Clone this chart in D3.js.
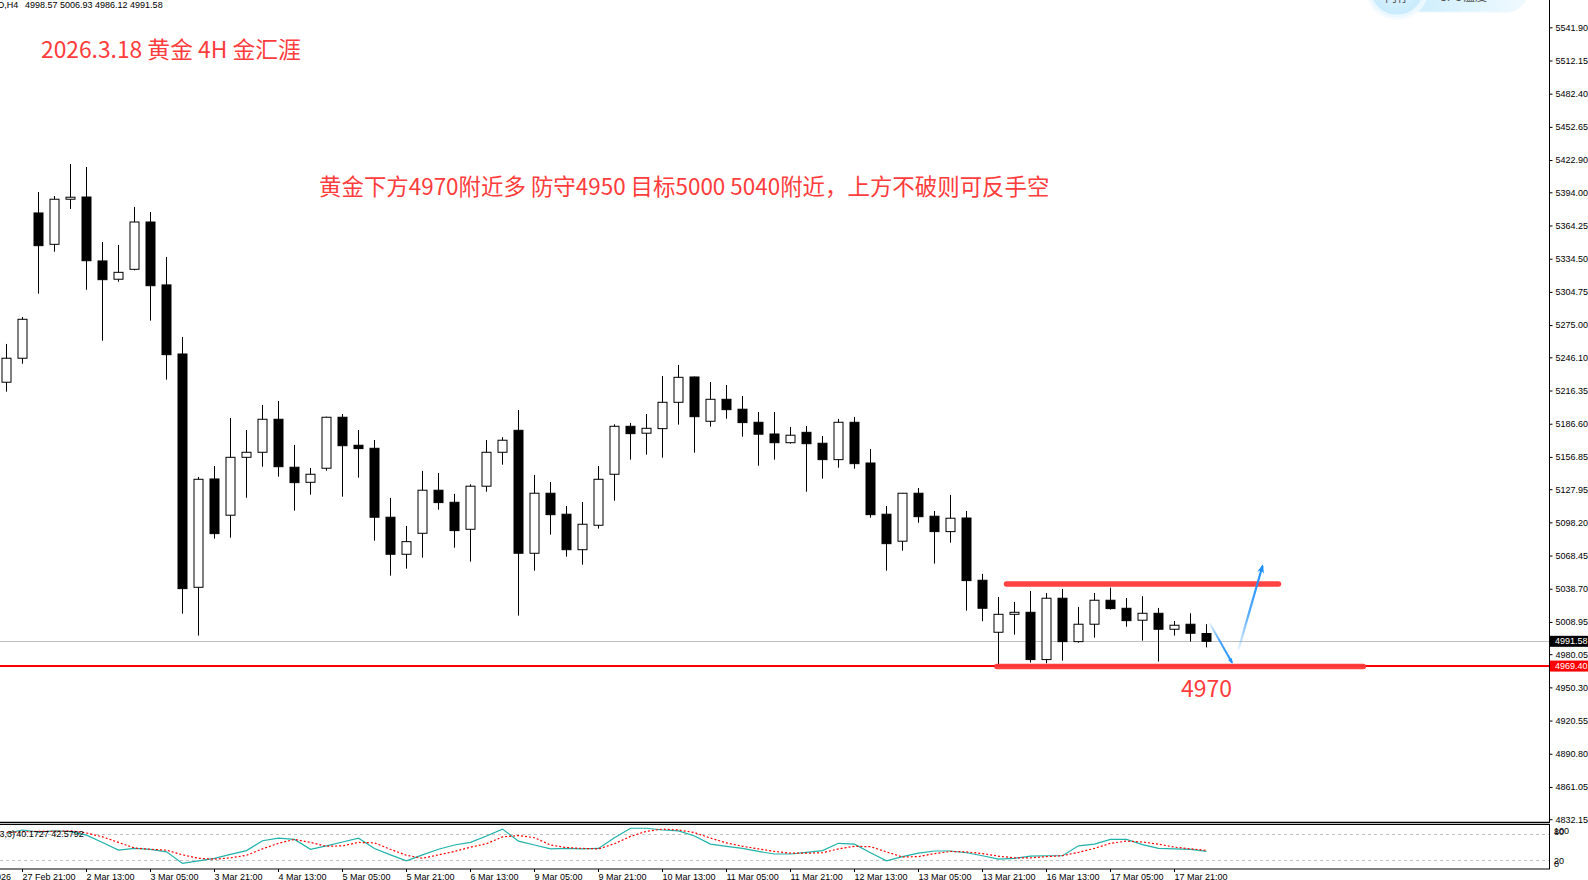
<!DOCTYPE html>
<html><head><meta charset="utf-8">
<script src="https://cdn.jsdelivr.net/npm/d3@7"></script>
<style>html,body{margin:0;padding:0;background:#fff;overflow:hidden}</style>
</head><body>
<svg id="c" width="1588" height="880"></svg>
<script>
// ---- data (XAUUSD H4, 27 Feb 17:00 .. 18 Mar 05:00) ----
const openP  = [5223.8,5245.3,5375.5,5347.4,5387.8,5389.8,5332.5,5316.1,5325.0,5367.4,
                5311.0,5249.1,5040.0,5137.1,5104.6,5156.5,5161.0,5190.6,5147.6,5134.1,
                5146.7,5192.4,5167.3,5164.6,5102.8,5069.6,5088.4,5127.0,5116.2,5092.0,
                5130.6,5161.0,5180.7,5070.5,5124.3,5105.5,5073.7,5095.6,5141.3,5184.3,
                5178.1,5182.2,5205.8,5228.5,5188.8,5208.5,5199.6,5187.9,5177.4,5169.6,
                5178.9,5169.1,5154.4,5187.9,5151.4,5105.5,5081.3,5124.3,5103.7,5089.9,
                5102.1,5046.3,4999.7,5015.8,5017.6,4975.2,5030.2,4991.3,5006.9,5028.4,
                5021.2,5010.5,5016.7,5002.4,5006.9,4998.57];
const highP  = [5258.1,5282.3,5394.3,5390.7,5419.4,5416.7,5349.5,5346.8,5380.9,5376.4,
                5336.1,5264.4,5138.9,5148.7,5191.8,5181.0,5203.4,5207.0,5167.6,5147.0,
                5192.9,5195.3,5181.0,5172.0,5120.1,5095.0,5144.3,5142.5,5123.7,5132.3,
                5172.0,5174.5,5198.9,5140.7,5134.4,5112.9,5116.5,5148.7,5186.1,5187.3,
                5195.3,5229.4,5239.3,5228.9,5224.0,5221.3,5211.5,5197.1,5197.1,5183.7,
                5184.6,5175.6,5190.9,5192.7,5164.0,5112.9,5124.6,5129.0,5108.4,5122.8,
                5108.4,5052.0,5031.3,5026.9,5036.7,5034.9,5038.5,5022.4,5034.9,5039.7,
                5030.4,5032.0,5021.5,5009.8,5016.7,5006.93];
const lowP   = [5215.3,5240.4,5303.2,5340.8,5379.1,5306.7,5261.0,5313.9,5324.0,5279.0,
                5226.1,5016.4,4996.7,5083.6,5084.5,5120.3,5148.1,5139.2,5108.7,5123.0,
                5144.5,5121.2,5138.3,5081.8,5050.4,5056.7,5066.6,5109.6,5075.5,5063.0,
                5125.7,5149.9,5014.6,5054.9,5087.2,5067.5,5060.3,5092.6,5117.6,5154.4,
                5158.9,5156.2,5185.8,5160.7,5184.0,5191.1,5175.0,5149.0,5154.4,5168.7,
                5125.7,5137.4,5147.2,5146.3,5102.4,5054.9,5072.8,5097.9,5061.2,5080.0,
                5019.1,5009.6,4969.4,4997.6,4972.5,4971.9,4974.3,4990.4,4994.9,5020.0,
                5004.7,4992.2,4973.4,4996.7,4991.3,4986.12];
const closeP = [5245.3,5280.2,5346.2,5387.8,5389.6,5332.7,5315.7,5322.3,5367.4,5310.3,
                5248.5,5038.8,5136.8,5088.1,5156.5,5161.0,5190.6,5148.1,5133.8,5141.3,
                5192.4,5166.9,5164.3,5102.8,5069.6,5080.9,5127.0,5115.9,5090.8,5130.6,
                5161.0,5171.8,5070.5,5124.3,5105.1,5073.7,5096.5,5136.8,5184.3,5177.7,
                5182.5,5205.8,5228.2,5192.9,5208.5,5199.2,5187.6,5177.2,5169.6,5176.3,
                5168.7,5154.4,5187.9,5150.8,5105.1,5079.1,5124.3,5103.3,5089.9,5101.9,
                5046.0,5021.2,5015.8,5017.6,4975.2,5030.2,4991.3,5006.9,5028.4,5020.9,
                5010.1,5016.7,5002.4,5006.0,4998.8,4991.58];
// stochastic main / signal
const stochMain = [82,90,85,88,86,78,61,43,47,45,39,12,18,24,33,42,65,71,68,45,
                   53,62,71,47,32,18,32,45,55,61,76,92,64,55,46,47,46,47,72,94,
                   94,90,88,76,57,52,47,40,34,34,38,42,59,57,37,18,28,36,41,41,
                   37,30,22,24,29,30,30,53,57,68,68,56,47,46,45,40.17];
const stochSignal = [84,86,87,87,88,83,74,61,48,45,43,32,24,22,25,31,46,59,68,61,
                     52,53,61,60,45,31,24,32,40,50,58,74,77,72,55,49,47,46,58,75,
                     87,92,90,84,71,60,52,46,40,36,36,37,46,52,51,39,27,28,35,40,
                     39,35,29,25,25,28,30,38,47,59,64,62,57,50,46,42.58];
const stochLevels = [80, 20];
const stochLabels = ["100","80","20","0"];
const priceTicks = ["5541.90","5512.15","5482.40","5452.65","5422.90","5394.00","5364.25",
  "5334.50","5304.75","5275.00","5246.10","5216.35","5186.60","5156.85","5127.95","5098.20",
  "5068.45","5038.70","5008.95","4980.05","4950.30","4920.55","4890.80","4861.05","4832.15"];
const xTickIdx = [1,5,9,13,17,21,25,29,33,37,41,45,49,53,57,61,65,69,73];
const xTickLabels = ["27 Feb 21:00","2 Mar 13:00","3 Mar 05:00","3 Mar 21:00","4 Mar 13:00",
  "5 Mar 05:00","5 Mar 21:00","6 Mar 13:00","9 Mar 05:00","9 Mar 21:00","10 Mar 13:00",
  "11 Mar 05:00","11 Mar 21:00","12 Mar 13:00","13 Mar 05:00","13 Mar 21:00","16 Mar 13:00",
  "17 Mar 05:00","17 Mar 21:00"];
const firstDateLabel = "27 Feb 2026";
const bidPrice = 4991.58;
const levelPrice = 4969.40;
const rangeTop = 5043.0, rangeBottom = 4969.0;
const rangeTopSpan = [62.5, 79.5], rangeBottomSpan = [61.9, 84.8];
const arrowDown = [[75.2, 5007.8],[76.6, 4972.4]];
const arrowUp = [[77.0, 4984.4],[78.5, 5059.1]];
const titleText = "2026.3.18 黄金 4H 金汇涯";
const noteText = "黄金下方4970附近多 防守4950 目标5000 5040附近，上方不破则可反手空";
const levelText = "4970";
const symbolText = "XAUUSD,H4";
const ohlcText = "4998.57 5006.93 4986.12 4991.58";
const stochName = "Stoch(5,3,3)";
const stochValText = "40.1727 42.5792";

// ---- drawing ----
const svg = d3.select('#c');
const AX = 1549, MAIN_BOTTOM = 822.5;
const x = d3.scaleLinear().domain([0, 75]).range([6.5, 1206.5]);
const y = d3.scaleLinear().domain([4832.15, 5541.90]).range([819.2, 27.3]);
const ys = d3.scaleLinear().domain([0, 100]).range([868.6, 825.7]);
const LF = "'Liberation Sans', Arial, sans-serif";
const CJK = "'Noto Sans CJK SC', 'Noto Sans', sans-serif";

const defs = svg.append('defs');
defs.append('clipPath').attr('id','mainClip').append('rect')
  .attr('x',0).attr('y',0).attr('width',AX).attr('height',MAIN_BOTTOM);
defs.append('clipPath').attr('id','indClip').append('rect')
  .attr('x',0).attr('y',825).attr('width',AX).attr('height',44);

// widget gradient
const pg = defs.append('linearGradient').attr('id','pillG').attr('x1','0').attr('x2','1').attr('y1','0').attr('y2','0');
pg.append('stop').attr('offset','0').attr('stop-color','#c9ecfc');
pg.append('stop').attr('offset','1').attr('stop-color','#f1faff');
const cg = defs.append('radialGradient').attr('id','circG');
cg.append('stop').attr('offset','0').attr('stop-color','#e4f6fe');
cg.append('stop').attr('offset','1').attr('stop-color','#c6eafb');

const main = svg.append('g').attr('clip-path','url(#mainClip)');

// bid line and level line
main.append('line').attr('x1',0).attr('x2',AX)
  .attr('y1',Math.round(y(bidPrice))+0.5).attr('y2',Math.round(y(bidPrice))+0.5)
  .attr('stroke','#c0c0c0').attr('stroke-width',1);
main.append('line').attr('x1',0).attr('x2',AX)
  .attr('y1',y(levelPrice)).attr('y2',y(levelPrice))
  .attr('stroke','#ff0000').attr('stroke-width',2);

// candles
const idx = d3.range(openP.length);
const cg2 = main.append('g');
cg2.selectAll('line.w').data(idx).join('line').attr('class','w')
  .attr('x1',i=>x(i)).attr('x2',i=>x(i))
  .attr('y1',i=>y(highP[i])).attr('y2',i=>y(lowP[i]))
  .attr('stroke','#000').attr('stroke-width',1);
cg2.selectAll('rect.b').data(idx).join('rect').attr('class','b')
  .attr('x',i=>x(i)-4.5).attr('width',9)
  .attr('y',i=>y(Math.max(openP[i],closeP[i])))
  .attr('height',i=>Math.max(1,Math.abs(y(openP[i])-y(closeP[i]))))
  .attr('fill',i=>closeP[i]<openP[i]?'#000':'#fff')
  .attr('stroke','#000').attr('stroke-width',1);

// annotations: range lines
const annG = svg.append('g');
annG.append('line').attr('x1',x(rangeTopSpan[0])).attr('x2',x(rangeTopSpan[1]))
  .attr('y1',y(rangeTop)).attr('y2',y(rangeTop))
  .attr('stroke','#ff3838').attr('stroke-width',5.5).attr('stroke-linecap','round').attr('opacity',0.95);
annG.append('line').attr('x1',x(rangeBottomSpan[0])).attr('x2',x(rangeBottomSpan[1]))
  .attr('y1',y(rangeBottom)).attr('y2',y(rangeBottom))
  .attr('stroke','#ff3838').attr('stroke-width',5.5).attr('stroke-linecap','round').attr('opacity',0.95);

// arrows
function gradFor(id, p0, p1){
  const g = defs.append('linearGradient').attr('id',id).attr('gradientUnits','userSpaceOnUse')
    .attr('x1',x(p0[0])).attr('y1',y(p0[1])).attr('x2',x(p1[0])).attr('y2',y(p1[1]));
  g.append('stop').attr('offset','0').attr('stop-color','#1e90ff').attr('stop-opacity',0.1);
  g.append('stop').attr('offset','0.45').attr('stop-color','#1e90ff').attr('stop-opacity',0.8);
  g.append('stop').attr('offset','1').attr('stop-color','#1e90ff').attr('stop-opacity',1);
}
gradFor('aG1', arrowDown[0], arrowDown[1]);
gradFor('aG2', arrowUp[0], arrowUp[1]);
defs.append('marker').attr('id','ah').attr('viewBox','0 0 10 8').attr('refX',8).attr('refY',4)
  .attr('markerWidth',9).attr('markerHeight',7).attr('markerUnits','userSpaceOnUse').attr('orient','auto')
  .append('path').attr('d','M0,0 L10,4 L0,8 L3,4 z').attr('fill','#1e90ff');
defs.append('marker').attr('id','ahs').attr('viewBox','0 0 10 8').attr('refX',8).attr('refY',4)
  .attr('markerWidth',6).attr('markerHeight',5).attr('markerUnits','userSpaceOnUse').attr('orient','auto')
  .append('path').attr('d','M0,0 L10,4 L0,8 L3,4 z').attr('fill','#1e90ff');
annG.append('line').attr('x1',x(arrowDown[0][0])).attr('y1',y(arrowDown[0][1]))
  .attr('x2',x(arrowDown[1][0])).attr('y2',y(arrowDown[1][1]))
  .attr('stroke','url(#aG1)').attr('stroke-width',2).attr('marker-end','url(#ahs)');
annG.append('line').attr('x1',x(arrowUp[0][0])).attr('y1',y(arrowUp[0][1]))
  .attr('x2',x(arrowUp[1][0])).attr('y2',y(arrowUp[1][1]))
  .attr('stroke','url(#aG2)').attr('stroke-width',2.2).attr('marker-end','url(#ah)');

// texts
svg.append('text').attr('x',41).attr('y',58).attr('font-family',CJK).attr('font-size',22.8)
  .attr('fill','#ff3c3c').text(titleText);
svg.append('text').attr('x',319).attr('y',194.5).attr('font-family',CJK).attr('font-size',22.45)
  .attr('fill','#ff3c3c').text(noteText);
svg.append('text').attr('x',1181).attr('y',696.5).attr('font-family',CJK).attr('font-size',23)
  .attr('fill','#ff3c3c').text(levelText);

// header
svg.append('text').attr('x',18.3).attr('y',8.3).attr('text-anchor','end').attr('font-family',LF)
  .attr('font-size',9).attr('fill','#000').text(symbolText);
svg.append('text').attr('x',25).attr('y',8.3).attr('font-family',LF)
  .attr('font-size',9).attr('fill','#000').text(ohlcText);

// widget top-right
const wg = svg.append('g');
wg.append('rect').attr('x',1400).attr('y',-44).attr('width',128).attr('height',56).attr('rx',22)
  .attr('fill','url(#pillG)').attr('stroke','#eef8fd').attr('stroke-width',1);
wg.append('circle').attr('cx',1397).attr('cy',-12).attr('r',32).attr('fill','#f2fafe').attr('opacity',0.8);
wg.append('circle').attr('cx',1397).attr('cy',-12).attr('r',28).attr('fill','url(#circG)')
  .attr('stroke','#eaf7fe').attr('stroke-width',3);
wg.append('text').attr('x',1397).attr('y',2).attr('text-anchor','middle').attr('font-family',CJK)
  .attr('font-size',12).attr('fill','#555').text('内存');
wg.append('text').attr('x',1463).attr('y',1).attr('text-anchor','middle').attr('font-family',CJK)
  .attr('font-size',12).attr('fill','#555').text('CPU温度');

// right price axis
svg.append('line').attr('x1',AX+0.5).attr('x2',AX+0.5).attr('y1',0).attr('y2',MAIN_BOTTOM)
  .attr('stroke','#000').attr('stroke-width',1);
const yAxis = d3.axisRight(y).tickValues(priceTicks.map(Number))
  .tickFormat((d,i)=>priceTicks[i]).tickSize(3).tickPadding(3);
const yg = svg.append('g').attr('transform',`translate(${AX+0.5},0)`).call(yAxis);
yg.select('.domain').remove();
yg.selectAll('text').attr('font-family',LF).attr('font-size',9).attr('fill','#000');
yg.selectAll('line').attr('stroke','#000');

// price boxes
function priceBox(p, fill){
  const yy = y(p);
  svg.append('rect').attr('x',AX+1).attr('y',yy-5.5).attr('width',1588-AX-1).attr('height',11).attr('fill',fill);
  svg.append('text').attr('x',AX+6).attr('y',yy).attr('dy','0.35em').attr('font-family',LF)
    .attr('font-size',9).attr('fill','#fff').text(p.toFixed(2));
}
priceBox(bidPrice,'#000');
priceBox(levelPrice,'#ff0000');

// main bottom border
svg.append('line').attr('x1',0).attr('x2',AX+1).attr('y1',MAIN_BOTTOM).attr('y2',MAIN_BOTTOM)
  .attr('stroke','#000').attr('stroke-width',1.5);

// indicator panel
svg.append('rect').attr('x',-1).attr('y',824.5).attr('width',AX+1.5).attr('height',44.5)
  .attr('fill','none').attr('stroke','#000').attr('stroke-width',1);
const ind = svg.append('g').attr('clip-path','url(#indClip)');
ind.selectAll('line.lv').data(stochLevels).join('line').attr('class','lv')
  .attr('x1',0).attr('x2',AX).attr('y1',d=>Math.round(ys(d))+0.5).attr('y2',d=>Math.round(ys(d))+0.5)
  .attr('stroke','#c0c0c0').attr('stroke-dasharray','3,3');
ind.append('path').datum(stochMain).attr('fill','none').attr('stroke','#20b2aa').attr('stroke-width',1.2)
  .attr('d',d3.line().x((d,i)=>x(i)).y(d=>ys(d)));
ind.append('path').datum(stochSignal).attr('fill','none').attr('stroke','#ff0000').attr('stroke-width',1.2)
  .attr('stroke-dasharray','2,2')
  .attr('d',d3.line().x((d,i)=>x(i)).y(d=>ys(d)));
svg.append('text').attr('x',15).attr('y',836.5).attr('text-anchor','end').attr('font-family',LF)
  .attr('font-size',9).attr('fill','#000').text(stochName);
svg.append('text').attr('x',16.3).attr('y',836.5).attr('font-family',LF)
  .attr('font-size',9).attr('fill','#000').text(stochValText);
// stoch scale labels
const stochLabOff = [5, -2, 0.5, -4.5];
svg.selectAll('text.sl').data(stochLabels).join('text').attr('class','sl')
  .attr('x',AX+5).attr('y',(d,i)=>ys(+d)+stochLabOff[i]).attr('dy','0.35em')
  .attr('font-family',LF).attr('font-size',9).attr('fill','#000').text(d=>d);

// x axis labels
const xg = svg.append('g');
xg.selectAll('line').data(xTickIdx).join('line')
  .attr('x1',d=>x(d)).attr('x2',d=>x(d)).attr('y1',869).attr('y2',872)
  .attr('stroke','#000');
xg.selectAll('text').data(xTickIdx).join('text')
  .attr('x',d=>x(d)).attr('y',879.5).attr('font-family',LF).attr('font-size',9).attr('fill','#000')
  .text((d,i)=>xTickLabels[i]);
xg.append('text').attr('x',11).attr('y',879.5).attr('text-anchor','end').attr('font-family',LF)
  .attr('font-size',9).attr('fill','#000').text(firstDateLabel);
</script>
</body></html>
